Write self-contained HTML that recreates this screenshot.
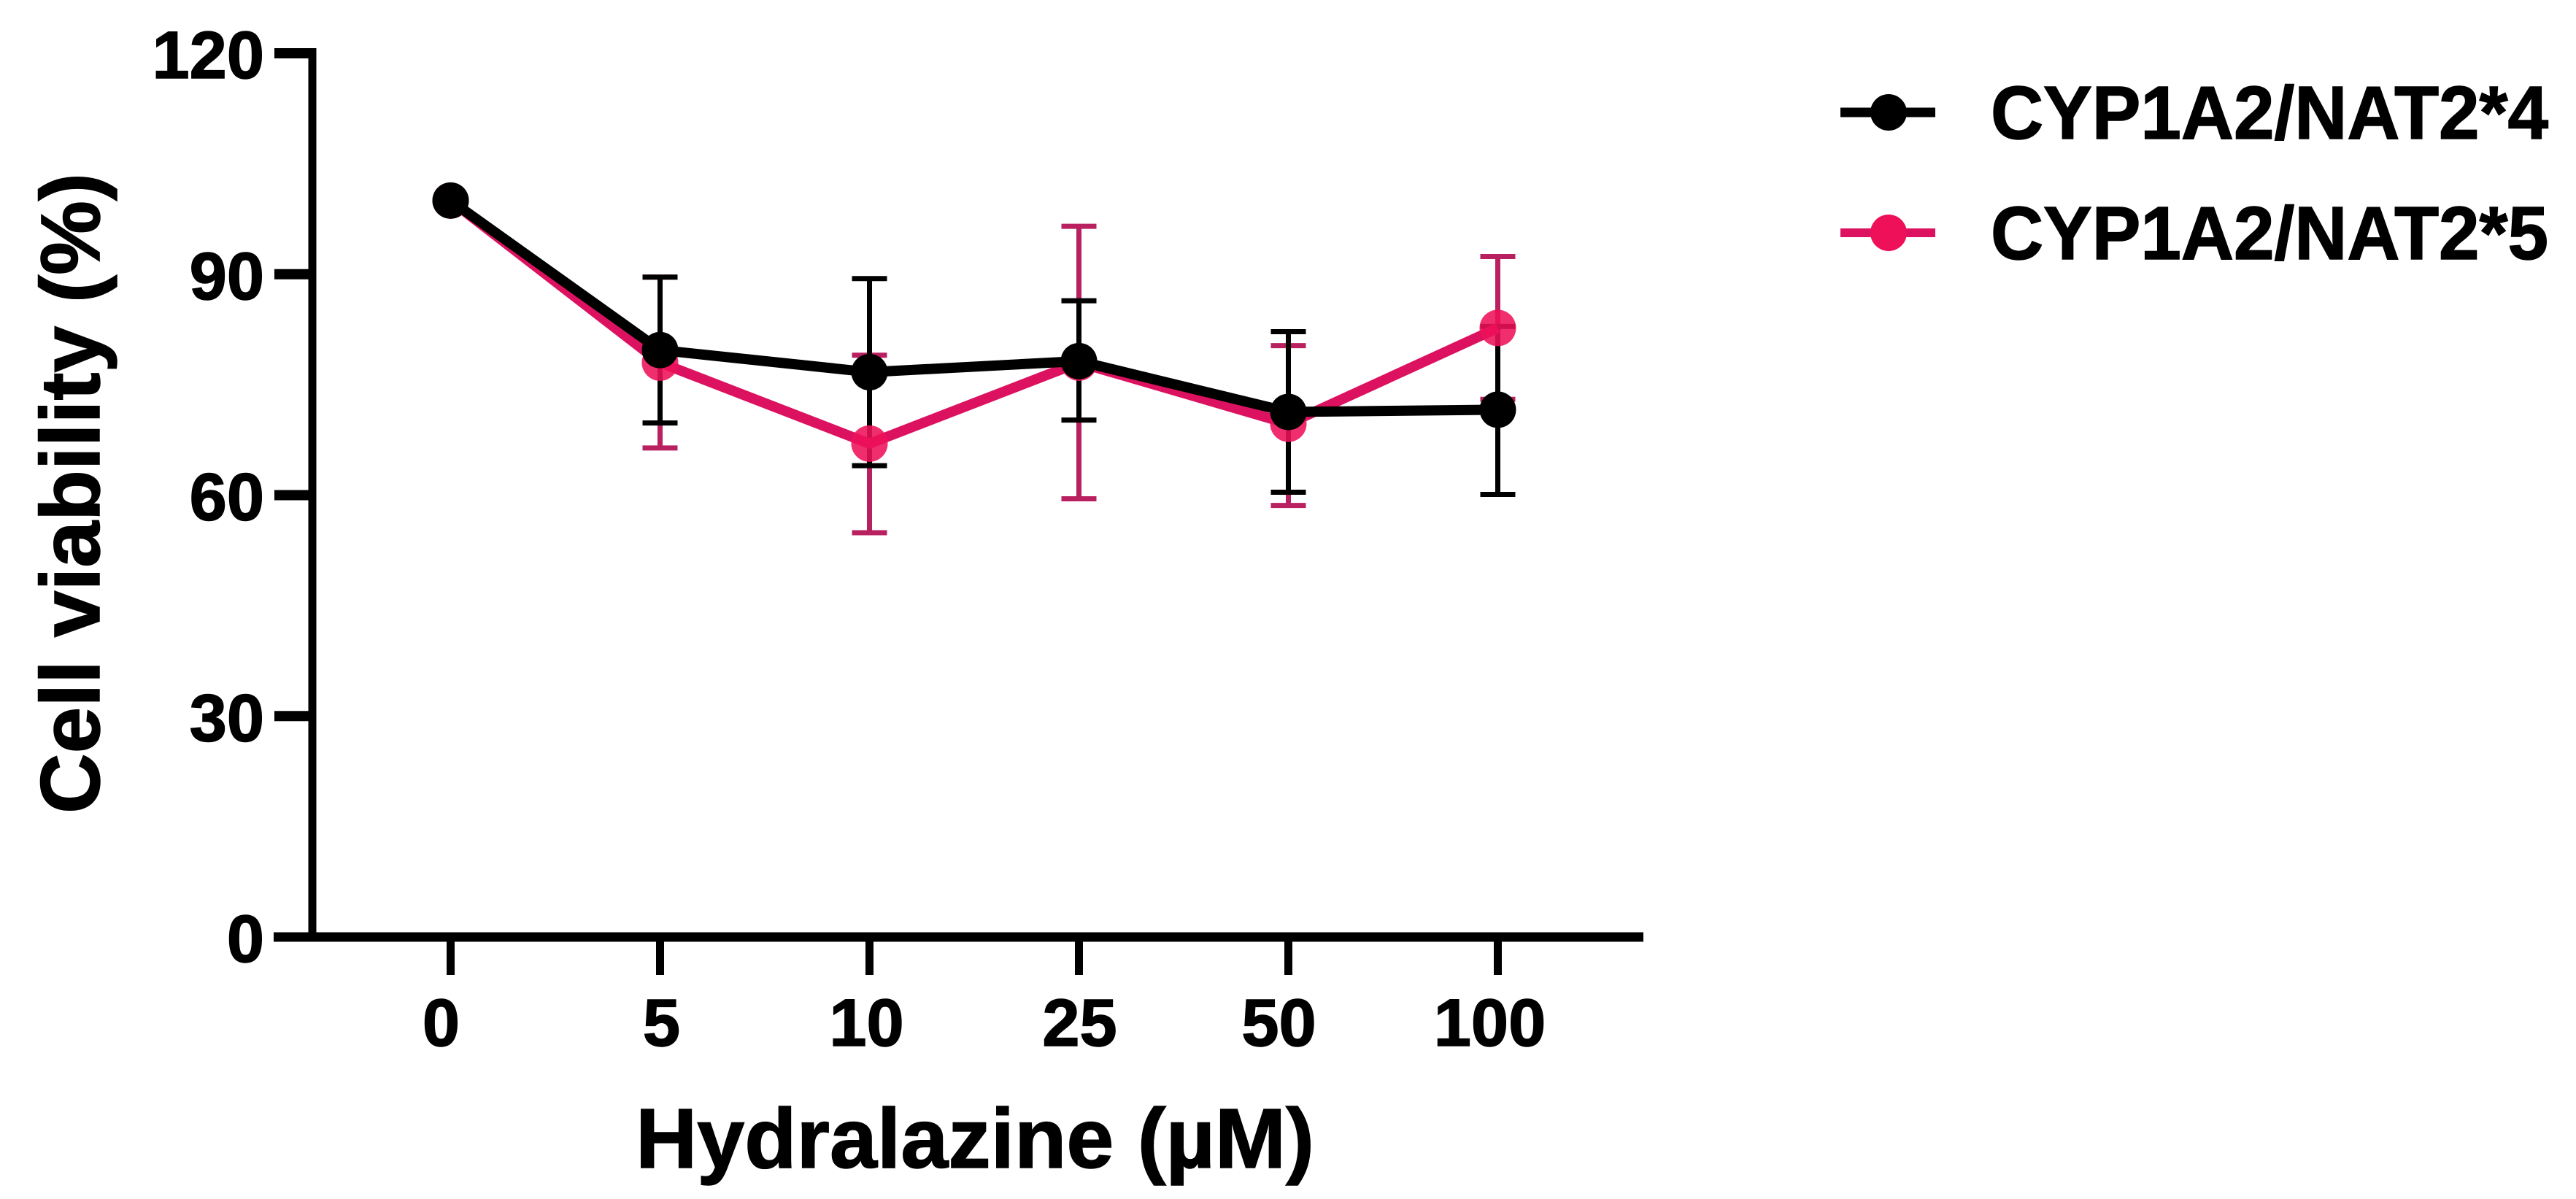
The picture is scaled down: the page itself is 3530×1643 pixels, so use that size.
<!DOCTYPE html>
<html lang="en">
<head>
<meta charset="utf-8">
<title>Cell viability vs Hydralazine</title>
<style>
html,body{margin:0;padding:0;background:#fff;}
svg{display:block;}
text{font-family:"Liberation Sans",Arial,sans-serif;font-weight:700;fill:#000;stroke:#000;stroke-width:1.5px;}
</style>
</head>
<body>
<svg id="chart" xmlns="http://www.w3.org/2000/svg" width="3530" height="1643" viewBox="0 0 3530 1643">
  <rect width="3530" height="1643" fill="#fff"/>
  <g id="series-layer"></g>
  <g id="axis-layer"></g>
  <text transform="translate(136,1115) rotate(-90)" font-size="115" textLength="878" lengthAdjust="spacingAndGlyphs">Cell viability (%)</text>
  <text x="871" y="1600" font-size="116" textLength="930" lengthAdjust="spacingAndGlyphs">Hydralazine (µM)</text>
  <g>
    <g>
      <line x1="2522" y1="154" x2="2652" y2="154" stroke="#000" stroke-width="13"/>
      <circle cx="2588" cy="154" r="25" fill="#000"/>
      <text x="2728" y="190" font-size="103" textLength="764" lengthAdjust="spacingAndGlyphs">CYP1A2/NAT2*4</text>
    </g>
    <g>
      <line x1="2522" y1="319" x2="2652" y2="319" stroke="#dc1260" stroke-width="12"/>
      <circle cx="2588" cy="319" r="25" fill="#ee1059"/>
      <text x="2728" y="355" font-size="103" textLength="764" lengthAdjust="spacingAndGlyphs">CYP1A2/NAT2*5</text>
    </g>
  </g>
</svg>
<script>
const categories = ["0", "5", "10", "25", "50", "100"];
const yTicks = [0, 30, 60, 90, 120];
const nat4Mean = [100, 79.7, 76.7, 78.2, 71.3, 71.6];
const nat4Upper = [100, 89.6, 89.4, 86.4, 82.2, 82.9];
const nat4Lower = [100, 69.8, 64.0, 70.2, 60.4, 60.1];
const nat5Mean = [100, 78.0, 67.0, 78.0, 69.7, 82.7];
const nat5Upper = [100, 89.6, 79.0, 96.5, 80.3, 92.4];
const nat5Lower = [100, 66.4, 54.9, 59.5, 58.6, 73.0];

const SVGNS = "http://www.w3.org/2000/svg";
const seriesLayer = document.getElementById("series-layer");
const axisLayer = document.getElementById("axis-layer");

function xScale(i) { return 617.5 + 287 * i; }
function yScale(v) { return 1284 - (v / 120) * 1211; }

function mk(tag, parent, props) {
  const el = document.createElementNS(SVGNS, tag);
  for (const k in props) el.setAttribute(k, props[k]);
  parent.appendChild(el);
  return el;
}

function drawErrors(label, upper, lower, color, hasBar) {
  categories.forEach(function (c, i) {
    if (!hasBar(i)) return;
    const x = xScale(i);
    const g = mk("g", seriesLayer, {});
    
    
    mk("line", g, { x1: x, x2: x, y1: yScale(upper[i]), y2: yScale(lower[i]), stroke: color, "stroke-width": 7 });
    mk("line", g, { x1: x - 24, x2: x + 24, y1: yScale(upper[i]), y2: yScale(upper[i]), stroke: color, "stroke-width": 7 });
    mk("line", g, { x1: x - 24, x2: x + 24, y1: yScale(lower[i]), y2: yScale(lower[i]), stroke: color, "stroke-width": 7 });
  });
}

function drawSeries(label, mean, lineColor, markerColor, markerOpacity) {
  const pts = mean.map(function (v, i) { return xScale(i) + "," + yScale(v); }).join(" ");
  const line = mk("polyline", seriesLayer, { points: pts, fill: "none", stroke: lineColor, "stroke-width": 14, "stroke-linejoin": "round" });
  
  
  mean.forEach(function (v, i) {
    const p = mk("circle", seriesLayer, { cx: xScale(i), cy: yScale(v), r: 25, fill: markerColor, "fill-opacity": markerOpacity });
    
    
  });
}

function hasError(i) { return categories[i] !== "0"; }

drawErrors("nat2-5", nat5Upper, nat5Lower, "#b9205f", hasError);
drawErrors("nat2-4", nat4Upper, nat4Lower, "#000", hasError);
drawSeries("nat2-5", nat5Mean, "#dc1260", "#ee1059", 0.88);
drawSeries("nat2-4", nat4Mean, "#000", "#000", 1);

/* axes */
const yAxis = mk("line", axisLayer, { x1: 428, x2: 428, y1: yScale(120) - 7, y2: yScale(0), stroke: "#000", "stroke-width": 11 });


const xAxis = mk("line", axisLayer, { x1: 375, x2: 2252, y1: yScale(0), y2: yScale(0), stroke: "#000", "stroke-width": 13 });



yTicks.forEach(function (t) {
  const y = yScale(t);
  if (t !== 0) {
    const m = mk("line", axisLayer, { x1: 376, x2: 428, y1: y, y2: y, stroke: "#000", "stroke-width": 14 });
    
    
  }
  const l = mk("text", axisLayer, { x: 362, y: y + 34, "font-size": 92, "text-anchor": "end" });
  l.textContent = String(t);
  
  
});

/* the source figure's x labels sit slightly off their ticks */
const xLabelNudge = [-13, 2, -4, 1, -13, -11];
categories.forEach(function (c, i) {
  const x = xScale(i);
  const m = mk("line", axisLayer, { x1: x, x2: x, y1: yScale(0), y2: 1336, stroke: "#000", "stroke-width": 11 });
  
  
  const l = mk("text", axisLayer, { x: x + xLabelNudge[i], y: 1433, "font-size": 92, "text-anchor": "middle" });
  l.textContent = c;
  
  
});
</script>
</body>
</html>
